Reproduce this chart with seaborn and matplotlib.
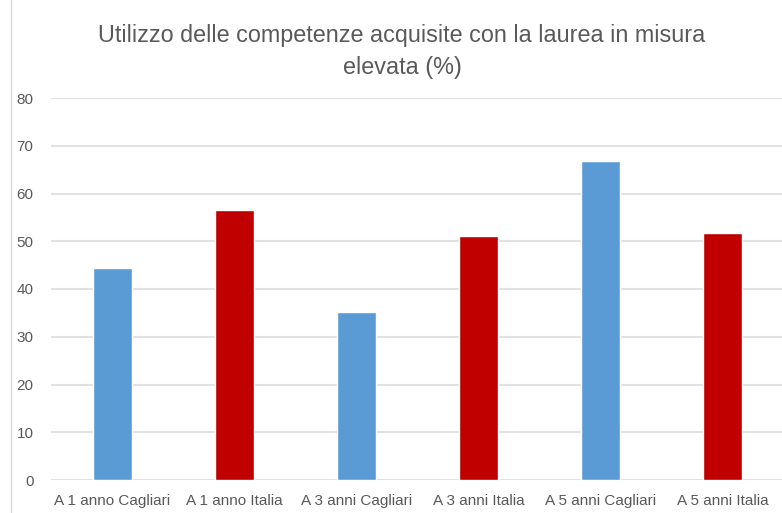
import matplotlib
matplotlib.use("Agg")
import matplotlib.pyplot as plt
import seaborn as sns
import pandas as pd
from matplotlib.lines import Line2D

categories = ["A 1 anno Cagliari", "A 1 anno Italia", "A 3 anni Cagliari",
              "A 3 anni Italia", "A 5 anni Cagliari", "A 5 anni Italia"]
values = [44.4, 56.6, 35.2, 51.0, 66.8, 51.8]
colors = ["#5B9BD5", "#C00000", "#5B9BD5", "#C00000", "#5B9BD5", "#C00000"]
yticks = [0, 10, 20, 30, 40, 50, 60, 70, 80]
title = "Utilizzo delle competenze acquisite con la laurea in misura\nelevata (%)"

sns.set_theme(style="white")
plt.rcParams["font.family"] = ["Liberation Sans", "DejaVu Sans"]

df = pd.DataFrame({"cat": categories, "val": values})

fig = plt.figure(figsize=(7.82, 5.13), dpi=100)
ax = fig.add_axes([51.5 / 782, 1 - 480 / 513, (783.5 - 51.5) / 782, (480 - 98) / 513])

sns.barplot(data=df, x="cat", y="val", hue="cat", palette=colors, order=categories,
            hue_order=categories, width=0.32, legend=False, ax=ax, zorder=3,
            saturation=1)

ax.set_ylim(0, 80)
ax.set_yticks(yticks)
ax.set_yticklabels([str(t) for t in yticks])
ax.yaxis.grid(True, color="#E2E2E2", linewidth=1.5, zorder=0)
ax.xaxis.grid(False)
ax.set_axisbelow(True)
for s in ax.spines.values():
    s.set_visible(False)
ax.tick_params(axis="both", length=0, colors="#595959", labelsize=11)
ax.tick_params(axis="y", pad=13)
ax.tick_params(axis="x", pad=10)
ax.set_xlabel("")
ax.set_ylabel("")
ax.set_xlim(-0.5, 5.5)

fig.text(402 / 782, 1 - 51.5 / 513, title, ha="center", va="center",
         fontsize=16.8, color="#595959", linespacing=1.5)

fig.add_artist(Line2D([11 / 782, 11 / 782], [0, 1], color="#D9D9D9", linewidth=1,
                      transform=fig.transFigure))

fig.savefig("out.png", dpi=100)
